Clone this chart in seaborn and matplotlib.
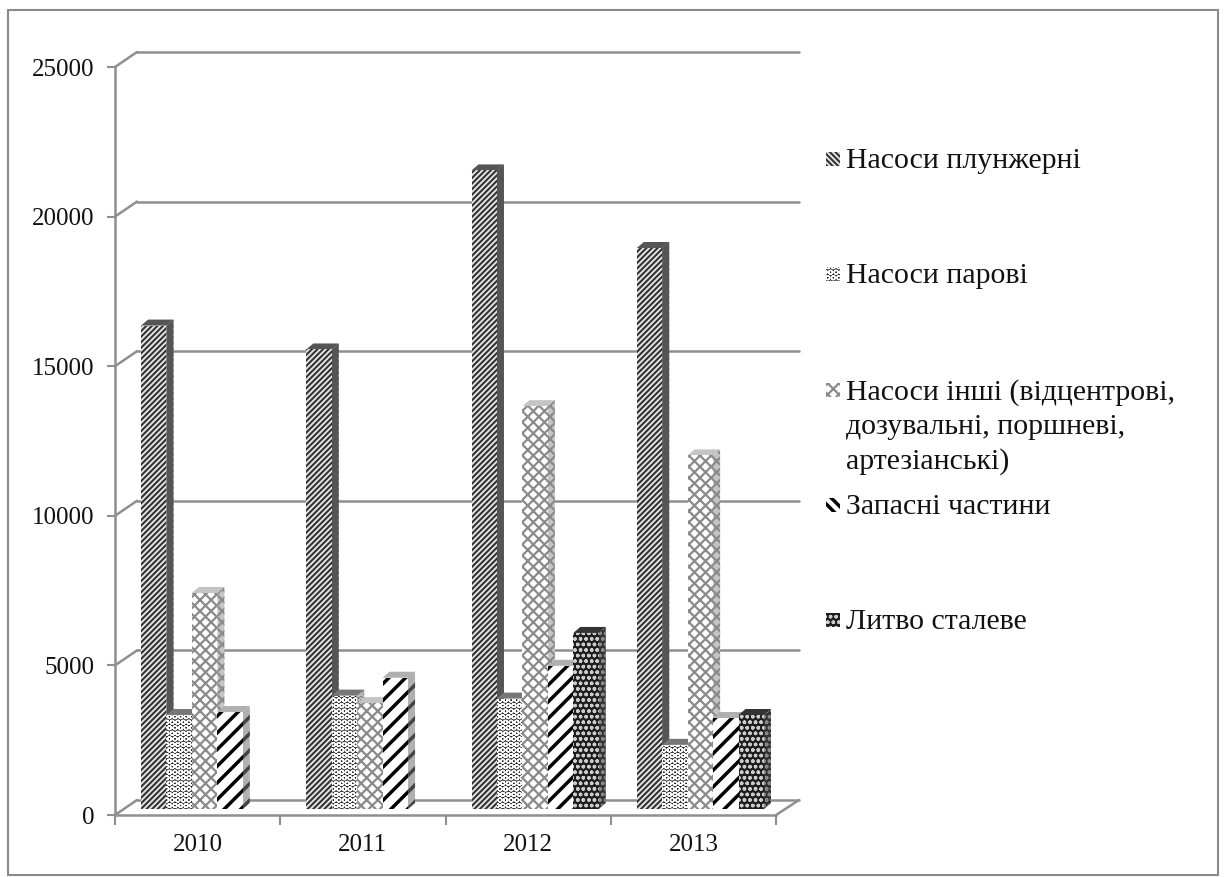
import numpy as np
import pandas as pd
import matplotlib
matplotlib.use("Agg")
import matplotlib.pyplot as plt
from matplotlib.patches import ConnectionPatch, Polygon, Rectangle
from matplotlib.transforms import IdentityTransform
import seaborn as sns

# data
years = ["2010", "2011", "2012", "2013"]
series_names = ["Насоси плунжерні", "Насоси парові", "Насоси інші", "Запасні частини", "Литво сталеве"]
plunger = [16200, 15400, 21400, 18800]
steam = [3150, 3800, 3700, 2150]
other = [7240, 3550, 13500, 11850]
spares = [3250, 4400, 4800, 3050]
casting = [np.nan, np.nan, 5900, 3150]
y_ticks = [0, 5000, 10000, 15000, 20000, 25000]
legend_labels = ["Насоси плунжерні", "Насоси парові",
                 "Насоси інші (відцентрові,\nдозувальні, поршневі,\nартезіанські)",
                 "Запасні частини", "Литво сталеве"]

# fill style of each series: face, hatch colour, hatch, hatch width, side colour, side hatch colour
styles = [
    ("#e8e8e8", "#333333", "//////", 1.5, "#555555", "#555555"),
    ("#2a2a2a", "#ffffff", "OOO", 1.0, "#777777", "#bbbbbb"),
    ("#ffffff", "#8a8a8a", "xxx", 1.6, "#c4c4c4", "#8a8a8a"),
    ("#ffffff", "#000000", "//", 2.5, "#b0b0b0", "#444444"),
    ("#1e1e1e", "#cccccc", "ooo", 1.0, "#333333", "#888888"),
]
# the small legend boxes use a tighter pattern, leaning the other way
legend_hatches = ["\\\\\\\\\\\\", "OOO", "xxx", "\\\\\\", "ooo"]

W, H = 1227, 877
AXIS_COLOR = "#8f8f8f"
DEPTH_X, DEPTH_Y = 7, 6

sns.set_theme(style="white")
plt.rcParams["font.family"] = ["Liberation Serif", "DejaVu Serif"]

fig = plt.figure(figsize=(W / 100, H / 100), dpi=100, facecolor="white")


def add_axes_px(left, right, top, bottom):
    return fig.add_axes([left / W, 1 - bottom / H, (right - left) / W, (bottom - top) / H])


# outer frame of the chart
fig.add_artist(Rectangle((8 / W, 1 - 875 / H), 1210 / W, 865 / H, transform=fig.transFigure,
                         fill=False, edgecolor="#8a8a8a", linewidth=1.5))

# ==========================================
# Back wall with the grid lines
# ==========================================
wall = add_axes_px(137, 799, 52, 800)
wall.set_xlim(0, 4)
wall.set_ylim(0, 25000)
wall.set_yticks(y_ticks)
wall.set_xticks([])
wall.tick_params(left=False, labelleft=False)
wall.grid(axis="y", color=AXIS_COLOR, linewidth=1.8)
for line in wall.get_ygridlines():
    line.set_clip_on(False)
sns.despine(ax=wall, left=True, top=True, right=True, bottom=True)
wall.patch.set_alpha(0)

# ==========================================
# Front axes with ticks and labels
# ==========================================
front = add_axes_px(115, 776, 67, 815)
front.set_xlim(0, 4)
front.set_ylim(0, 25000)
front.set_yticks(y_ticks)
front.set_xticks(range(5))
front.set_xticklabels([])
front.set_xticks(np.arange(4) + 0.5, labels=years, minor=True)
front.tick_params(axis="x", which="major", bottom=True, length=7, width=1.5, color=AXIS_COLOR)
front.tick_params(axis="x", which="minor", bottom=False, length=0, labelsize=18, pad=14, labelcolor="#111111")
front.tick_params(axis="y", left=True, length=6, width=1.5, color=AXIS_COLOR, labelsize=18, pad=9, labelcolor="#111111")
sns.despine(ax=front, top=True, right=True)
for side in ["left", "bottom"]:
    front.spines[side].set_color(AXIS_COLOR)
    front.spines[side].set_linewidth(1.8)
front.patch.set_alpha(0)

# slanted lines joining the front ticks to the wall
for tick in y_ticks:
    fig.add_artist(ConnectionPatch((0, tick), (0, tick), coordsA=front.transData, coordsB=wall.transData,
                                   color=AXIS_COLOR, linewidth=1.8))
fig.add_artist(ConnectionPatch((4, 0), (4, 0), coordsA=front.transData, coordsB=wall.transData,
                               color=AXIS_COLOR, linewidth=1.8))

# ==========================================
# Bars
# ==========================================
df = pd.DataFrame({
    "year": years * 5,
    "series": np.repeat(series_names, 4),
    "value": plunger + steam + other + spares + casting,
})

bars = add_axes_px(122, 783, 63, 809)
sns.barplot(data=df, x="year", y="value", hue="series", hue_order=series_names, order=years,
            ax=bars, width=0.77, gap=0, legend=False, saturation=1, linewidth=0,
            palette=["white"] * 5)
bars.set_ylim(0, 25000)
bars.set_axis_off()
bars.patch.set_alpha(0)

fig.canvas.draw()
to_px = bars.transData
for i, (container, style) in enumerate(zip(bars.containers, styles)):
    face, hatch_color, hatch, hatch_width, side_color, side_hatch = style
    for patch in container:
        if np.isnan(patch.get_height()) or patch.get_height() == 0:
            continue
        x0, y0 = to_px.transform((patch.get_x(), 0))
        x1, y1 = to_px.transform((patch.get_x() + patch.get_width(), patch.get_height()))
        z = 3 + i
        patch.set_facecolor(face)
        patch.set_edgecolor(hatch_color)
        patch.set_hatch(hatch)
        patch.set_hatch_linewidth(hatch_width)
        patch.set_zorder(z + 0.5)
        # side and top faces of the 3D bar, in pixels
        side = Polygon([(x1, y0), (x1 + DEPTH_X, y0 + DEPTH_Y), (x1 + DEPTH_X, y1 + DEPTH_Y), (x1, y1)],
                       transform=IdentityTransform(), facecolor=side_color, edgecolor=side_hatch,
                       linewidth=0, hatch=hatch, zorder=z)
        side.set_hatch_linewidth(hatch_width)
        top = Polygon([(x0, y1), (x0 + DEPTH_X, y1 + DEPTH_Y), (x1 + DEPTH_X, y1 + DEPTH_Y), (x1, y1)],
                      transform=IdentityTransform(), facecolor=side_color, edgecolor="none", zorder=z)
        bars.add_patch(side)
        bars.add_patch(top)

# ==========================================
# Legend, placed by hand because its rows are uneven
# ==========================================
legend_rows = [159, 274, 390, 505, 620]
for label, row, style, box_hatch in zip(legend_labels, legend_rows, styles, legend_hatches):
    face, hatch_color, hatch, hatch_width, _, _ = style
    box = Rectangle((826 / W, 1 - (row + 7) / H), 14 / W, 14 / H, transform=fig.transFigure,
                    facecolor=face, edgecolor=hatch_color, hatch=box_hatch, linewidth=0)
    box.set_hatch_linewidth(hatch_width)
    fig.add_artist(box)
    fig.text(846 / W, 1 - (row - 11) / H, label, ha="left", va="top", fontsize=21.5,
             color="#111111", linespacing=1.4)

fig.savefig("out.png", dpi=100)
